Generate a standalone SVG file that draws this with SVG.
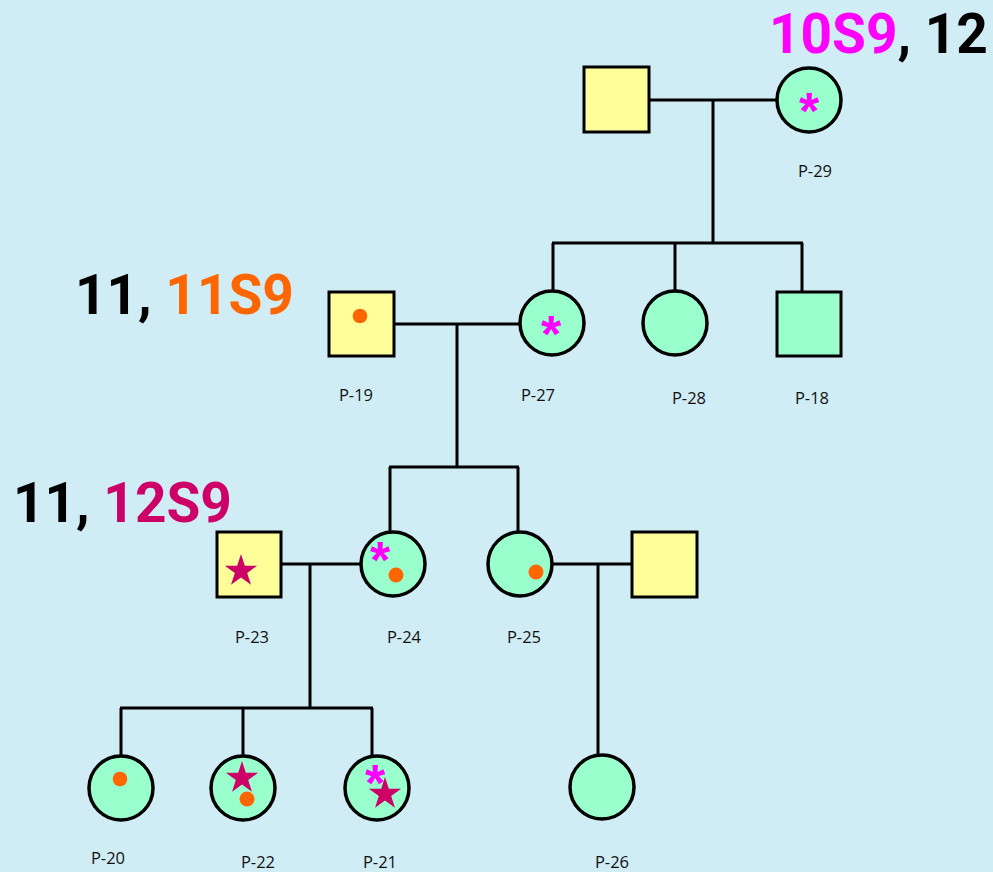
<svg xmlns="http://www.w3.org/2000/svg" xmlns:xlink="http://www.w3.org/1999/xlink" width="993" height="872" viewBox="0 0 993 872">
<style>
.m{fill:#ffff99;stroke:#000;stroke-width:3}
.f{fill:#99ffcc;stroke:#000;stroke-width:3.5}
.c line{stroke:#000;stroke-width:3}
.lb{font-family:"Open Sans","Liberation Sans",Arial,sans-serif;font-size:16.5px;fill:#111;text-anchor:middle}
.big{font-family:Roboto,"Liberation Sans",Arial,sans-serif;font-size:55px;font-weight:bold}
.ast{font-family:"Liberation Sans",Arial,sans-serif;font-size:52px;font-weight:bold;fill:#ff00ff;text-anchor:middle}
.dot{fill:#ff6600}
.star{fill:#cc0066}
</style>
<defs>
<polygon id="star" points="0,-17 3.81,-5.24 16.17,-5.25 6.16,2 9.99,13.75 0,6.48 -9.99,13.75 -6.16,2 -16.17,-5.25 -3.81,-5.24"/>
</defs>
<rect width="993" height="872" fill="#d0ecf4"/>
<g class="c" id="connectors">
<line x1="650" y1="100" x2="777" y2="100"/>
<line x1="713" y1="100" x2="713" y2="243"/>
<line x1="552" y1="243" x2="803" y2="243"/>
<line x1="553" y1="243" x2="553" y2="291"/>
<line x1="675" y1="243" x2="675" y2="291"/>
<line x1="802" y1="243" x2="802" y2="292"/>
<line x1="394" y1="324" x2="520" y2="324"/>
<line x1="457" y1="324" x2="457" y2="467"/>
<line x1="389" y1="467" x2="519" y2="467"/>
<line x1="390" y1="467" x2="390" y2="531"/>
<line x1="518" y1="467" x2="518" y2="532"/>
<line x1="282" y1="564" x2="360" y2="564"/>
<line x1="310" y1="564" x2="310" y2="708"/>
<line x1="120" y1="708" x2="373" y2="708"/>
<line x1="121" y1="708" x2="121" y2="756"/>
<line x1="243" y1="708" x2="243" y2="756"/>
<line x1="372" y1="708" x2="372" y2="756"/>
<line x1="552" y1="564" x2="631" y2="564"/>
<line x1="598" y1="564" x2="598" y2="755"/>
</g>
<g id="father-top"><rect class="m" x="584" y="67" width="65" height="65"/></g>
<g id="P-29"><circle class="f" cx="809" cy="100" r="32"/><text class="ast" x="809" y="129">*</text><text class="lb" x="815" y="177">P-29</text></g>
<g id="P-19"><rect class="m" x="329" y="292" width="65" height="64"/><circle class="dot" cx="360" cy="316" r="7.3"/><text class="lb" x="356" y="401">P-19</text></g>
<g id="P-27"><circle class="f" cx="552" cy="323" r="32"/><text class="ast" x="551" y="352">*</text><text class="lb" x="538" y="401">P-27</text></g>
<g id="P-28"><circle class="f" cx="675" cy="323" r="32"/><text class="lb" x="689" y="404">P-28</text></g>
<g id="P-18"><rect class="m" x="777" y="292" width="64" height="64" style="fill:#99ffcc"/><text class="lb" x="812" y="404">P-18</text></g>
<g id="P-23"><rect class="m" x="217" y="532" width="64" height="65"/><use xlink:href="#star" class="star" x="241" y="571"/><text class="lb" x="252" y="643">P-23</text></g>
<g id="P-24"><circle class="f" cx="393" cy="564" r="32"/><text class="ast" x="380" y="578">*</text><circle class="dot" cx="396" cy="575" r="7.5"/><text class="lb" x="404" y="643">P-24</text></g>
<g id="P-25"><circle class="f" cx="520" cy="564" r="32"/><circle class="dot" cx="536" cy="572" r="7.5"/><text class="lb" x="524" y="643">P-25</text></g>
<g id="father-P26"><rect class="m" x="632" y="532" width="65" height="65"/></g>
<g id="P-20"><circle class="f" cx="121" cy="788" r="32"/><circle class="dot" cx="120" cy="779" r="7.3"/><text class="lb" x="108" y="864">P-20</text></g>
<g id="P-22"><circle class="f" cx="243" cy="788" r="32"/><use xlink:href="#star" class="star" x="242" y="778"/><circle class="dot" cx="247" cy="799" r="7.5"/><text class="lb" x="258" y="868">P-22</text></g>
<g id="P-21"><circle class="f" cx="377" cy="788" r="32"/><text class="ast" x="375" y="801">*</text><use xlink:href="#star" class="star" x="385" y="794"/><text class="lb" x="380" y="868">P-21</text></g>
<g id="P-26"><circle class="f" cx="602" cy="787" r="32"/><text class="lb" x="612" y="868">P-26</text></g>
<g id="labels">
<text class="big" x="769" y="53"><tspan fill="#ff00ff">10S9</tspan><tspan fill="#000">, 12</tspan></text>
<text class="big" x="75" y="314"><tspan fill="#000">11, </tspan><tspan fill="#ff6600">11S9</tspan></text>
<text class="big" x="13" y="522"><tspan fill="#000">11, </tspan><tspan fill="#cc0066">12S9</tspan></text>
</g>
</svg>
